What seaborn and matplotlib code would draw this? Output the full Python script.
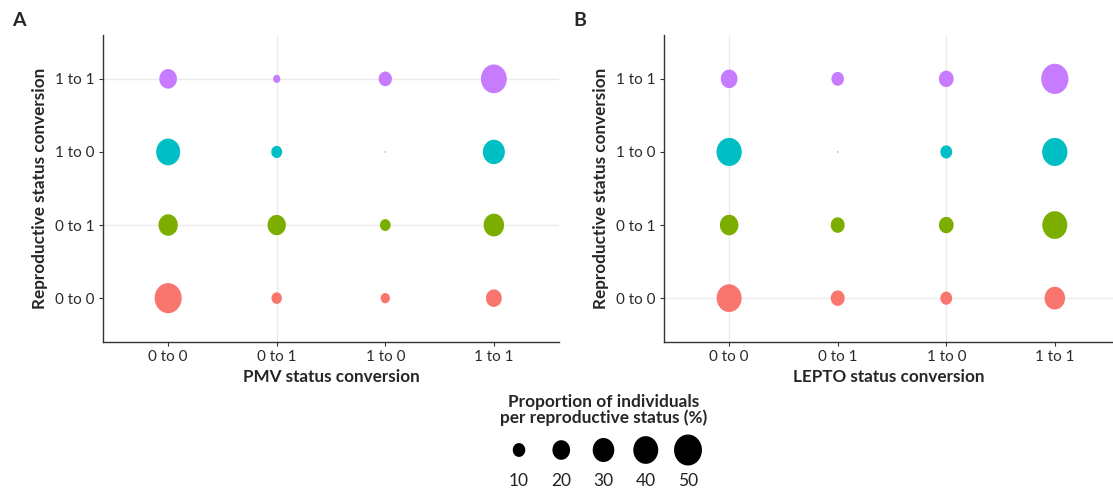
import numpy as np
import pandas as pd
import matplotlib
matplotlib.use("Agg")
import matplotlib.pyplot as plt
from matplotlib.path import Path
import seaborn as sns

sns.set_style("ticks")
plt.rcParams["font.family"] = ["Lato", "DejaVu Sans"]

# categories (same for both axes)
statuses = ["0 to 0", "0 to 1", "1 to 0", "1 to 1"]

# proportion of individuals (%): rows = reproductive status conversion,
# columns = infection status conversion (0 to 0, 0 to 1, 1 to 0, 1 to 1)
pmv_props = [
    [47.0, 7.0, 5.5, 16.0],   # 0 to 0
    [24.0, 21.5, 7.3, 27.0],  # 0 to 1
    [37.0, 7.7, 0.1, 31.0],   # 1 to 0
    [20.0, 3.4, 11.3, 43.0],  # 1 to 1
]
lepto_props = [
    [40.0, 12.5, 9.0, 27.0],
    [22.0, 12.5, 14.0, 40.0],
    [41.0, 0.1, 9.0, 41.0],
    [18.0, 10.0, 14.0, 47.5],
]
legend_vals = [10, 20, 30, 40, 50]
pal = {"0 to 0": "#F8766D", "0 to 1": "#7CAE00", "1 to 0": "#00BFC4", "1 to 1": "#C77CFF"}

S_MAX = 498  # marker area (pt^2) for 50 %

# the bubbles in the figure are slightly taller than wide
t = np.linspace(0, 2 * np.pi, 64)
ell = Path(np.column_stack([0.9 * np.cos(t), np.sin(t)]), closed=True)


def to_long(props):
    rows = []
    for i, r in enumerate(statuses):
        for j, c in enumerate(statuses):
            rows.append((c, r, props[i][j]))
    return pd.DataFrame(rows, columns=["infection", "repro", "prop"])


W, H = 1113, 496
fig = plt.figure(figsize=(W / 100, H / 100), dpi=100)
axA = fig.add_axes([103 / W, 1 - 342 / H, 456 / W, 307 / H])
axB = fig.add_axes([664 / W, 1 - 342 / H, (W - 664) / W, 307 / H])

panels = [
    (axA, pmv_props, "PMV status conversion", (-0.6, 3.6), [1], [1, 3]),
    (axB, lepto_props, "LEPTO status conversion", (-0.6, 3.536), [0, 2], [0]),
]

for ax, props, xlab, xlim, xgrid, ygrid in panels:
    df = to_long(props)
    sns.scatterplot(data=df, x="infection", y="repro", hue="repro", palette=pal,
                    size="prop", sizes=(0, S_MAX), size_norm=(0, 50),
                    marker=ell, linewidth=0, legend=False, ax=ax, zorder=3)
    ax.set_xlim(*xlim)
    ax.set_ylim(-0.6, 3.6)
    for s in ["top", "right"]:
        ax.spines[s].set_visible(False)
    for s in ["left", "bottom"]:
        ax.spines[s].set_color("#333333")
        ax.spines[s].set_linewidth(1.0)
    ax.tick_params(length=3, width=0.8, color="#333333", labelsize=11,
                   labelcolor="#2b2b2b", pad=3)
    ax.grid(True, color="#ebebeb", lw=1)
    for i, gl in enumerate(ax.get_xgridlines()):
        gl.set_visible(i in xgrid)
    for i, gl in enumerate(ax.get_ygridlines()):
        gl.set_visible(i in ygrid)
    ax.set_axisbelow(True)
    ax.set_xlabel(xlab, fontsize=12.3, fontweight="bold", labelpad=3)
    ax.set_ylabel("Reproductive status conversion", fontsize=12.3,
                  fontweight="bold", labelpad=5)

fig.text(12 / W, 1 - 21 / H, "A", fontsize=14, fontweight="bold", va="center")
fig.text(573 / W, 1 - 21 / H, "B", fontsize=14, fontweight="bold", va="center")

# size legend
fig.text(604 / W, 1 - 410 / H, "Proportion of individuals\nper reproductive status (%)",
         ha="center", va="center", fontsize=12.4, fontweight="bold", linespacing=1.0)
axL = fig.add_axes([480 / W, 1 - 470 / H, 250 / W, 40 / H])
sns.scatterplot(x=legend_vals, y=[0] * len(legend_vals), size=legend_vals,
                sizes=(0, S_MAX), size_norm=(0, 50), color="black",
                marker=ell, linewidth=0, legend=False, ax=axL)
axL.set_xlim(0.77, 59.94)
axL.set_ylim(-0.5, 0.5)
axL.set_xticks(legend_vals)
axL.set_xticklabels([str(v) for v in legend_vals])
axL.tick_params(length=0, labelsize=12.5, labelcolor="#222222", pad=2.5)
axL.set_yticks([])
for s in axL.spines.values():
    s.set_visible(False)
axL.patch.set_alpha(0)

fig.savefig("out.png", dpi=100)
